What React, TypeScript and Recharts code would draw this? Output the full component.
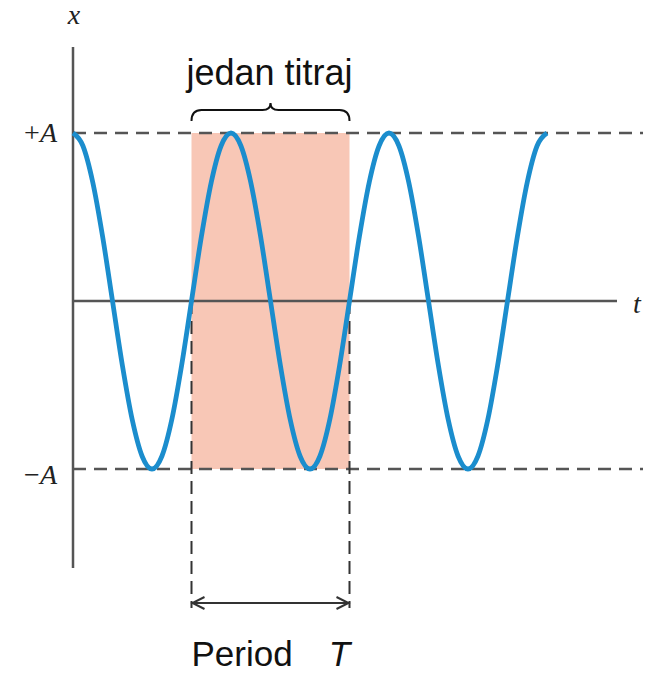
import React from 'react';
import { ComposedChart, Line, XAxis, YAxis, ReferenceLine, ReferenceArea, ReferenceDot } from 'recharts';

// time in periods (T = 1), displacement in units of A
const timeValues = [
  0, 0.0625, 0.125, 0.1875, 0.25, 0.3125, 0.375, 0.4375,
  0.5, 0.5625, 0.625, 0.6875, 0.75, 0.8125, 0.875, 0.9375,
  1, 1.0625, 1.125, 1.1875, 1.25, 1.3125, 1.375, 1.4375,
  1.5, 1.5625, 1.625, 1.6875, 1.75, 1.8125, 1.875, 1.9375,
  2, 2.0625, 2.125, 2.1875, 2.25, 2.3125, 2.375, 2.4375,
  2.5, 2.5625, 2.625, 2.6875, 2.75, 2.8125, 2.875, 2.9375, 3,
];
const displacementValues = [
  1, 0.924, 0.707, 0.383, 0, -0.383, -0.707, -0.924,
  -1, -0.924, -0.707, -0.383, 0, 0.383, 0.707, 0.924,
  1, 0.924, 0.707, 0.383, 0, -0.383, -0.707, -0.924,
  -1, -0.924, -0.707, -0.383, 0, 0.383, 0.707, 0.924,
  1, 0.924, 0.707, 0.383, 0, -0.383, -0.707, -0.924,
  -1, -0.924, -0.707, -0.383, 0, 0.383, 0.707, 0.924, 1,
];
const periodStart = 0.75;
const periodEnd = 1.75;
const amplitude = 1;

const axisLabels = { vertical: 'x', horizontal: 't', top: '+A', bottom: '−A' };
const braceLabel = 'jedan titraj';
const periodWord = 'Period';
const periodSymbol = 'T';

const data = timeValues.map((t, i) => ({ t, x: displacementValues[i] }));

const T_MIN = -73 / 158;
const T_MAX = 577 / 158;
const X_MIN = -372 / 168;
const X_MAX = 301 / 168;

const GRAY = '#555555';
const SERIF = '"Liberation Serif", "DejaVu Serif", serif';
const SANS = '"Liberation Sans", Arial, sans-serif';

const BraceShape = (p: any) => {
  const { x1, y1, x2 } = p;
  const a = Math.min(x1, x2);
  const b = Math.max(x1, x2);
  const m = (a + b) / 2;
  const y = y1;
  const d = `M ${a} ${y + 11} Q ${a} ${y} ${a + 10} ${y} L ${m - 8} ${y} Q ${m} ${y} ${m} ${y - 7} Q ${m} ${y} ${m + 8} ${y} L ${b - 10} ${y} Q ${b} ${y} ${b} ${y + 11}`;
  return <path d={d} fill="none" stroke="#111" strokeWidth={2} />;
};

const ArrowShape = (p: any) => {
  const { x1, y1, x2 } = p;
  const a = Math.min(x1, x2);
  const b = Math.max(x1, x2);
  const y = y1;
  return (
    <g stroke="#333" strokeWidth={2} fill="none">
      <line x1={a} y1={y} x2={b} y2={y} />
      <polyline points={`${a + 13},${y - 6} ${a + 1},${y} ${a + 13},${y + 6}`} />
      <polyline points={`${b - 13},${y - 6} ${b - 1},${y} ${b - 13},${y + 6}`} />
    </g>
  );
};

const TextShape = (render: (cx: number, cy: number) => React.ReactElement) => (p: any) => render(p.cx, p.cy);

export default function App() {
  return (
    <div style={{ position: 'absolute', left: 0, top: 0, width: 650, height: 673, background: '#fff' }}>
      <ComposedChart width={650} height={673} data={data} margin={{ top: 0, right: 0, bottom: 0, left: 0 }}>
        <XAxis dataKey="t" type="number" domain={[T_MIN, T_MAX]} hide allowDataOverflow />
        <YAxis type="number" domain={[X_MIN, X_MAX]} hide allowDataOverflow />
        <ReferenceArea x1={periodStart} x2={periodEnd} y1={-amplitude} y2={amplitude} fill="#f8c7b6" fillOpacity={1} stroke="none" />
        <ReferenceLine segment={[{ x: 0, y: 254 / 168 }, { x: 0, y: -267 / 168 }]} stroke={GRAY} strokeWidth={2.5} />
        <ReferenceLine segment={[{ x: 0, y: 0 }, { x: 544 / 158, y: 0 }]} stroke={GRAY} strokeWidth={2.5} />
        <ReferenceLine segment={[{ x: 0, y: amplitude }, { x: 570 / 158, y: amplitude }]} stroke={GRAY} strokeWidth={2.5} strokeDasharray="13 8" />
        <ReferenceLine segment={[{ x: 0, y: -amplitude }, { x: 570 / 158, y: -amplitude }]} stroke={GRAY} strokeWidth={2.5} strokeDasharray="13 8" />
        <ReferenceLine segment={[{ x: periodStart, y: 0 }, { x: periodStart, y: -307 / 168 }]} stroke="#333" strokeWidth={2} strokeDasharray="13 7" />
        <ReferenceLine segment={[{ x: periodEnd, y: 0 }, { x: periodEnd, y: -307 / 168 }]} stroke="#333" strokeWidth={2} strokeDasharray="13 7" />
        <ReferenceLine segment={[{ x: periodStart, y: 191 / 168 }, { x: periodEnd, y: 191 / 168 }]} shape={BraceShape} />
        <ReferenceLine segment={[{ x: periodStart, y: -302 / 168 }, { x: periodEnd, y: -302 / 168 }]} shape={ArrowShape} />
        <Line dataKey="x" type="monotone" stroke="#1b8dcd" strokeWidth={4.8} dot={false} activeDot={false} isAnimationActive={false} />
        <ReferenceDot x={0} y={277 / 168} r={0} shape={TextShape((cx, cy) => (
          <text x={cx + 1} y={cy} textAnchor="middle" style={{ fontFamily: SERIF, fontStyle: 'italic', fontSize: 28 }} fill="#222">{axisLabels.vertical}</text>
        ))} />
        <ReferenceDot x={564 / 158} y={-12 / 168} r={0} shape={TextShape((cx, cy) => (
          <text x={cx} y={cy} textAnchor="middle" style={{ fontFamily: SERIF, fontStyle: 'italic', fontSize: 28 }} fill="#222">{axisLabels.horizontal}</text>
        ))} />
        <ReferenceDot x={-16 / 158} y={159 / 168} r={0} shape={TextShape((cx, cy) => (
          <text x={cx} y={cy} textAnchor="end" style={{ fontFamily: SERIF, fontSize: 28 }} fill="#222">
            <tspan>{axisLabels.top.slice(0, 1)}</tspan><tspan style={{ fontStyle: 'italic' }}>{axisLabels.top.slice(1)}</tspan>
          </text>
        ))} />
        <ReferenceDot x={-16 / 158} y={-183 / 168} r={0} shape={TextShape((cx, cy) => (
          <text x={cx} y={cy} textAnchor="end" style={{ fontFamily: SERIF, fontSize: 28 }} fill="#222">
            <tspan>{axisLabels.bottom.slice(0, 1)}</tspan><tspan style={{ fontStyle: 'italic' }}>{axisLabels.bottom.slice(1)}</tspan>
          </text>
        ))} />
        <ReferenceDot x={(periodStart + periodEnd) / 2} y={216 / 168} r={0} shape={TextShape((cx, cy) => (
          <text x={cx - 1} y={cy} textAnchor="middle" style={{ fontFamily: SANS, fontSize: 36 }} fill="#111">{braceLabel}</text>
        ))} />
        <ReferenceDot x={periodStart} y={-365 / 168} r={0} shape={TextShape((cx, cy) => (
          <text x={cx} y={cy} style={{ fontFamily: SANS, fontSize: 35 }} fill="#111">
            <tspan>{periodWord}</tspan><tspan dx={36} style={{ fontStyle: 'italic' }}>{periodSymbol}</tspan>
          </text>
        ))} />
      </ComposedChart>
    </div>
  );
}
